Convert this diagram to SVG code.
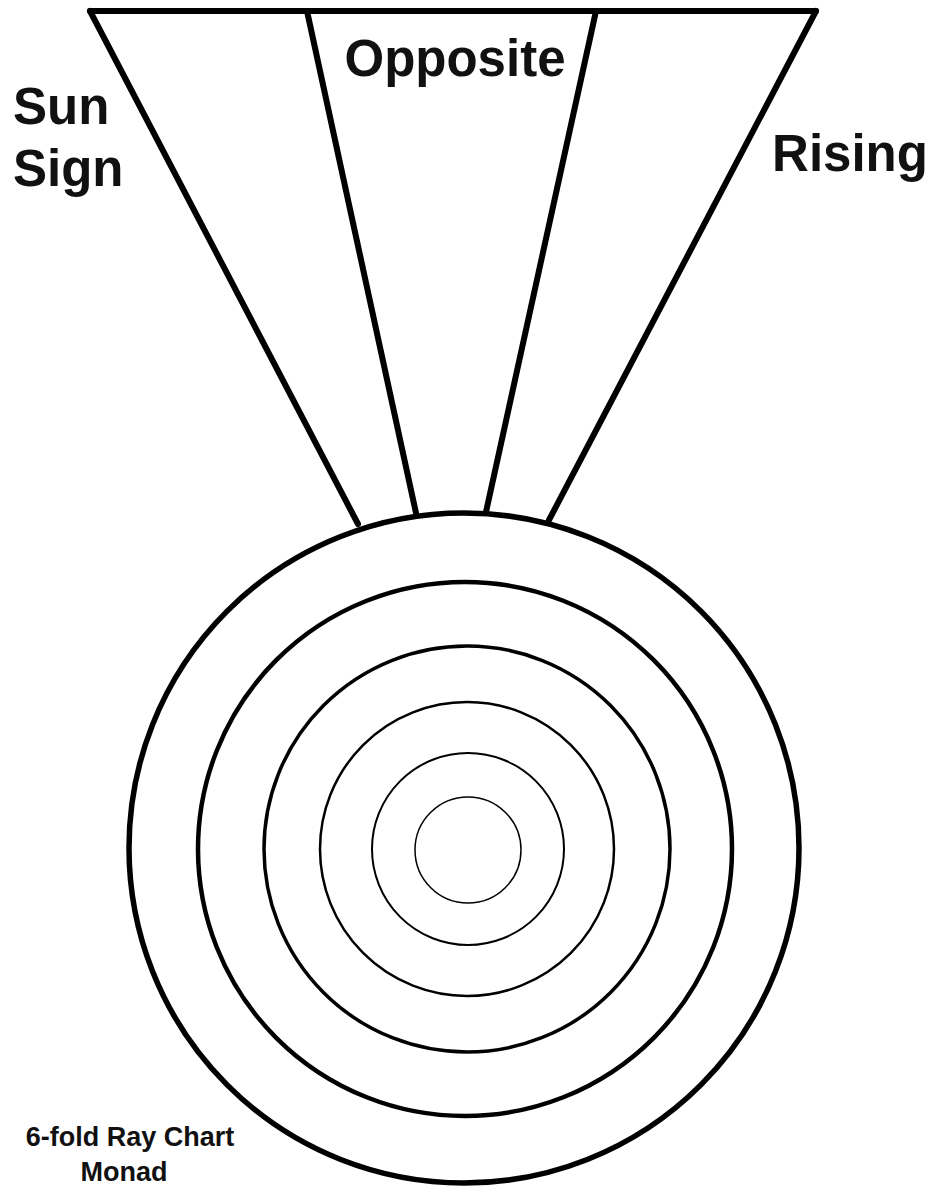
<svg xmlns="http://www.w3.org/2000/svg" width="935" height="1190" viewBox="0 0 935 1190">
<style>
.ln{stroke:#000;fill:none;stroke-linecap:round;stroke-linejoin:round}
.lbl{font-family:"Liberation Sans",Arial,sans-serif;font-weight:bold;fill:#111}
</style>
<rect width="935" height="1190" fill="#fff"/>
<g id="connectors">
<line class="ln" x1="90" y1="11" x2="816" y2="11" stroke-width="6"/>
<line class="ln" x1="90" y1="11" x2="358" y2="524" stroke-width="6"/>
<line class="ln" x1="307" y1="11" x2="416" y2="513" stroke-width="6"/>
<line class="ln" x1="596" y1="11" x2="486" y2="512" stroke-width="6"/>
<line class="ln" x1="816" y1="11" x2="549" y2="520" stroke-width="6"/>
</g>
<g id="ring1"><circle class="ln" cx="464" cy="848" r="335" stroke-width="5.5"/></g>
<g id="ring2"><circle class="ln" cx="465" cy="849" r="267" stroke-width="4.5"/></g>
<g id="ring3"><circle class="ln" cx="467" cy="849" r="203" stroke-width="3.5"/></g>
<g id="ring4"><circle class="ln" cx="467" cy="849" r="147" stroke-width="2.5"/></g>
<g id="ring5"><circle class="ln" cx="468" cy="849" r="96" stroke-width="2"/></g>
<g id="ring6"><circle class="ln" cx="468" cy="850" r="53" stroke-width="1.5"/></g>
<g id="label-sun"><text class="lbl" x="13" y="124" font-size="51">Sun</text><text class="lbl" x="13" y="186" font-size="51">Sign</text></g>
<g id="label-opposite"><text class="lbl" x="455" y="76" font-size="51" text-anchor="middle">Opposite</text></g>
<g id="label-rising"><text class="lbl" x="850" y="171" font-size="51" text-anchor="middle">Rising</text></g>
<g id="label-chart"><text class="lbl" x="130" y="1146" font-size="27" text-anchor="middle">6-fold Ray Chart</text><text class="lbl" x="124" y="1181" font-size="27" text-anchor="middle">Monad</text></g>
</svg>
